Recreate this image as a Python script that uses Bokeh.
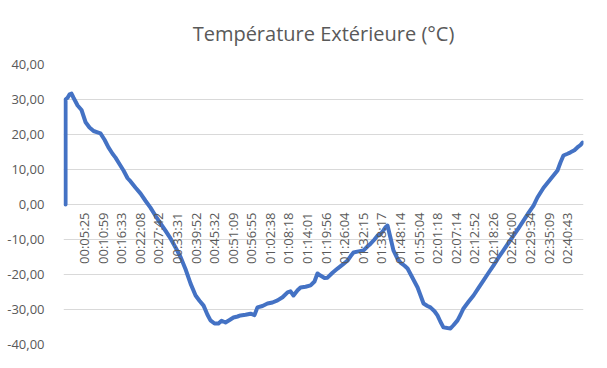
from bokeh.plotting import figure
from bokeh.models import ColumnDataSource, FixedTicker, Range1d
from bokeh.core.properties import value
from bokeh.embed import file_html
from bokeh.resources import INLINE
import math

# Category labels on the time axis (one every ~5.5 minutes)
time_labels = ["00:05:25", "00:10:59", "00:16:33", "00:22:08", "00:27:42", "00:33:31",
               "00:39:52", "00:45:32", "00:51:09", "00:56:55", "01:02:38", "01:08:18",
               "01:14:01", "01:19:56", "01:26:04", "01:32:15", "01:38:17", "01:48:14",
               "01:55:04", "02:01:18", "02:07:14", "02:12:52", "02:18:26", "02:24:00",
               "02:29:34", "02:35:09", "02:40:43"]
label_pos = list(range(1, len(time_labels) + 1))

# Sample position (in label intervals) and temperature (°C)
sample_pos = [0.00, 0.00, 0.11, 0.22, 0.32, 0.43, 0.65, 0.86, 1.08, 1.29,
              1.51, 1.72, 1.88, 2.10, 2.31, 2.53, 2.69, 2.91, 3.12, 3.34,
              3.50, 3.77, 4.04, 4.31, 4.57, 4.84, 5.11, 5.38, 5.65, 5.92,
              6.19, 6.46, 6.73, 7.00, 7.21, 7.43, 7.64, 7.80, 8.02, 8.23,
              8.40, 8.61, 8.83, 9.04, 9.26, 9.42, 9.69, 9.96, 10.17, 10.33,
              10.60, 10.87, 11.14, 11.41, 11.68, 11.95, 12.11, 12.27, 12.49, 12.65,
              12.92, 13.19, 13.40, 13.56, 13.72, 13.94, 14.10, 14.37, 14.64, 14.91,
              15.18, 15.34, 15.50, 15.77, 16.04, 16.25, 16.42, 16.63, 16.79, 16.95,
              17.11, 17.22, 17.33, 17.49, 17.65, 17.87, 18.03, 18.25, 18.41, 18.68,
              18.95, 19.11, 19.27, 19.48, 19.64, 19.86, 20.02, 20.18, 20.34, 20.56,
              20.72, 20.88, 21.10, 21.26, 21.42, 21.69, 21.96, 22.23, 22.50, 22.77,
              23.04, 23.30, 23.57, 23.84, 24.11, 24.38, 24.65, 24.92, 25.19, 25.40,
              25.73, 26.10, 26.48, 26.64, 26.80, 27.02, 27.18, 27.39, 27.55, 27.72,
              27.83]
temperature = [0.0, 30.0, 30.5, 31.5, 31.7, 30.5, 28.3, 27.0, 23.5, 22.0,
               21.0, 20.6, 20.3, 18.5, 16.3, 14.5, 13.4, 11.5, 9.7, 7.5,
               6.6, 4.8, 3.1, 1.0, -0.9, -3.2, -5.4, -7.5, -9.7, -12.3,
               -15.0, -18.5, -22.6, -26.0, -27.5, -28.9, -31.5, -33.1, -34.0, -34.0,
               -33.2, -33.7, -33.0, -32.3, -32.0, -31.7, -31.5, -31.2, -31.6, -29.4,
               -29.0, -28.3, -28.0, -27.4, -26.5, -25.1, -24.8, -26.0, -24.5, -23.7,
               -23.5, -23.1, -22.0, -19.7, -20.3, -21.0, -20.9, -19.5, -18.3, -17.2,
               -16.0, -14.8, -13.7, -13.4, -13.1, -12.0, -11.2, -10.0, -8.9, -8.5,
               -7.4, -6.5, -6.0, -9.5, -13.1, -15.5, -16.6, -17.5, -18.3, -21.0,
               -23.7, -26.0, -28.3, -29.0, -29.4, -30.5, -31.7, -33.5, -35.1, -35.3,
               -35.4, -34.5, -33.1, -31.5, -29.7, -27.8, -26.0, -23.8, -21.7, -19.5,
               -17.4, -15.2, -13.1, -11.0, -8.9, -6.8, -4.6, -2.4, -0.3, 2.0,
               4.8, 7.2, 9.7, 12.0, 14.0, 14.5, 14.9, 15.5, 16.3, 17.0,
               17.7]

y_ticks = [-40, -30, -20, -10, 0, 10, 20, 30, 40]
y_tick_labels = ["-40,00", "-30,00", "-20,00", "-10,00", "0,00", "10,00", "20,00", "30,00", "40,00"]

FONT = "Open Sans"
GREY = "#595959"

p = figure(width=590, height=362, output_backend="svg", toolbar_location=None,
           x_range=Range1d(-0.11, 27.88), y_range=Range1d(-40, 40),
           min_border_left=63, min_border_right=7, min_border_top=64, min_border_bottom=18)
p.outline_line_color = None
p.background_fill_color = "white"
p.border_fill_color = "white"

p.title.text = "Température Extérieure (°C)"
p.title.align = "center"
p.title.text_font = FONT
p.title.text_font_size = "20px"
p.title.text_font_style = "normal"
p.title.text_color = GREY
p.title.offset = 0
p.title.standoff = 35

p.xaxis.visible = False
p.xgrid.visible = False

yax = p.yaxis[0]
yax.ticker = FixedTicker(ticks=y_ticks)
yax.major_label_overrides = {t: l for t, l in zip(y_ticks, y_tick_labels)}
yax.axis_line_color = None
yax.major_tick_line_color = None
yax.minor_tick_line_color = None
yax.major_label_standoff = 13
yax.major_label_text_font = FONT
yax.major_label_text_font_size = "13px"
yax.major_label_text_color = GREY

p.ygrid.ticker = FixedTicker(ticks=y_ticks)
p.ygrid.grid_line_color = "#D9D9D9"
p.ygrid.grid_line_width = 1

line_src = ColumnDataSource(dict(x=sample_pos, y=temperature))
p.line("x", "y", source=line_src, line_color="#4472C4", line_width=4,
       line_join="round", line_cap="round")

lab_src = ColumnDataSource(dict(x=label_pos, y=[0] * len(label_pos), t=time_labels))
p.text("x", "y", text="t", source=lab_src, angle=math.pi / 2,
       text_align="right", text_baseline="middle", y_offset=8,
       text_font=value(FONT), text_font_size=value("13px"), text_color=GREY)

open("out.html", "w").write(file_html(p, INLINE))
